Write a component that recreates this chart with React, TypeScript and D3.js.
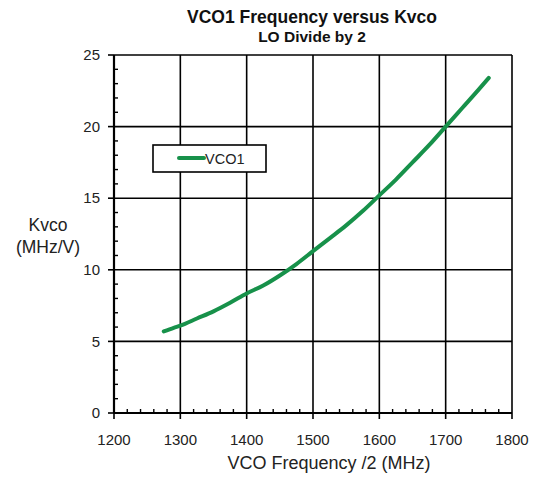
import React from "react";
import * as d3 from "d3";

const freqMHz = [1275, 1290, 1300, 1325, 1350, 1375, 1400, 1425, 1450, 1475, 1500, 1525, 1550, 1575, 1600, 1625, 1650, 1675, 1700, 1725, 1750, 1765];
const kvco = [5.7, 5.95, 6.1, 6.6, 7.1, 7.7, 8.35, 8.9, 9.6, 10.4, 11.3, 12.2, 13.1, 14.1, 15.2, 16.3, 17.5, 18.7, 20.0, 21.3, 22.6, 23.4];
const xTicks = [1200, 1300, 1400, 1500, 1600, 1700, 1800];
const yTicks = [0, 5, 10, 15, 20, 25];

const W = 538, H = 477;
const L = 114, R = 512, T = 55, B = 413;
const font = "'Liberation Sans', Arial, sans-serif";
const green = "#17914a";

export default function App() {
  const x = d3.scaleLinear().domain([1200, 1800]).range([L, R]);
  const y = d3.scaleLinear().domain([0, 25]).range([B, T]);
  const pts = freqMHz.map((f, i) => [f, kvco[i]] as [number, number]);
  const line = d3.line<[number, number]>().x(d => x(d[0])).y(d => y(d[1])).curve(d3.curveMonotoneX);
  const xMinor = d3.range(1200, 1800.1, 20).filter(v => v % 100 !== 0);
  const yMinor = d3.range(0, 25.1, 1).filter(v => v % 5 !== 0);
  return (
    <svg width={W} height={H} style={{ position: "absolute", left: 0, top: 0, background: "#fff" }} fontFamily={font}>
      <rect x={0} y={0} width={W} height={H} fill="#fff" />
      {xTicks.filter(v => v > 1200).map(v => (
        <line key={"gx" + v} x1={x(v)} x2={x(v)} y1={T} y2={B} stroke="#000" strokeWidth={1.6} />
      ))}
      {yTicks.filter(v => v > 0).map(v => (
        <line key={"gy" + v} x1={L} x2={R} y1={y(v)} y2={y(v)} stroke="#000" strokeWidth={1.6} />
      ))}
      <line x1={L} x2={L} y1={T} y2={B} stroke="#000" strokeWidth={2.2} />
      <line x1={L} x2={R} y1={B} y2={B} stroke="#000" strokeWidth={2.2} />
      {yTicks.map(v => (
        <g key={"yt" + v}>
          <line x1={L - 6} x2={L} y1={y(v)} y2={y(v)} stroke="#000" strokeWidth={1.6} />
          <text x={L - 14} y={y(v)} dy="0.35em" textAnchor="end" fontSize={15} fill="#222">{v}</text>
        </g>
      ))}
      {yMinor.map(v => (
        <line key={"ym" + v} x1={L} x2={L + 4} y1={y(v)} y2={y(v)} stroke="#000" strokeWidth={1.4} />
      ))}
      {xTicks.map(v => (
        <g key={"xt" + v}>
          <line x1={x(v)} x2={x(v)} y1={B} y2={B + 6} stroke="#000" strokeWidth={1.6} />
          <text x={x(v)} y={445} textAnchor="middle" fontSize={15} fill="#222">{v}</text>
        </g>
      ))}
      {xMinor.map(v => (
        <line key={"xm" + v} x1={x(v)} x2={x(v)} y1={B - 4} y2={B} stroke="#000" strokeWidth={1.4} />
      ))}
      <path d={line(pts) || ""} fill="none" stroke={green} strokeWidth={4} strokeLinecap="round" strokeLinejoin="round" />
      <rect x={153} y={145} width={113} height={27} fill="#fff" stroke="#000" strokeWidth={1.6} />
      <line x1={179} x2={204} y1={158} y2={158} stroke={green} strokeWidth={4} strokeLinecap="round" />
      <text x={205} y={158.5} dy="0.35em" fontSize={14.5} fill="#222">VCO1</text>
      <text x={312} y={23} textAnchor="middle" fontSize={17.5} fontWeight="bold" fill="#111">VCO1 Frequency versus Kvco</text>
      <text x={312} y={42} textAnchor="middle" fontSize={15.5} fontWeight="bold" fill="#111">LO Divide by 2</text>
      <text x={48} y={231} textAnchor="middle" fontSize={17.5} fill="#222">Kvco</text>
      <text x={48} y={253} textAnchor="middle" fontSize={17.5} fill="#222">(MHz/V)</text>
      <text x={329} y={469} textAnchor="middle" fontSize={18} fill="#222">VCO Frequency /2 (MHz)</text>
    </svg>
  );
}
